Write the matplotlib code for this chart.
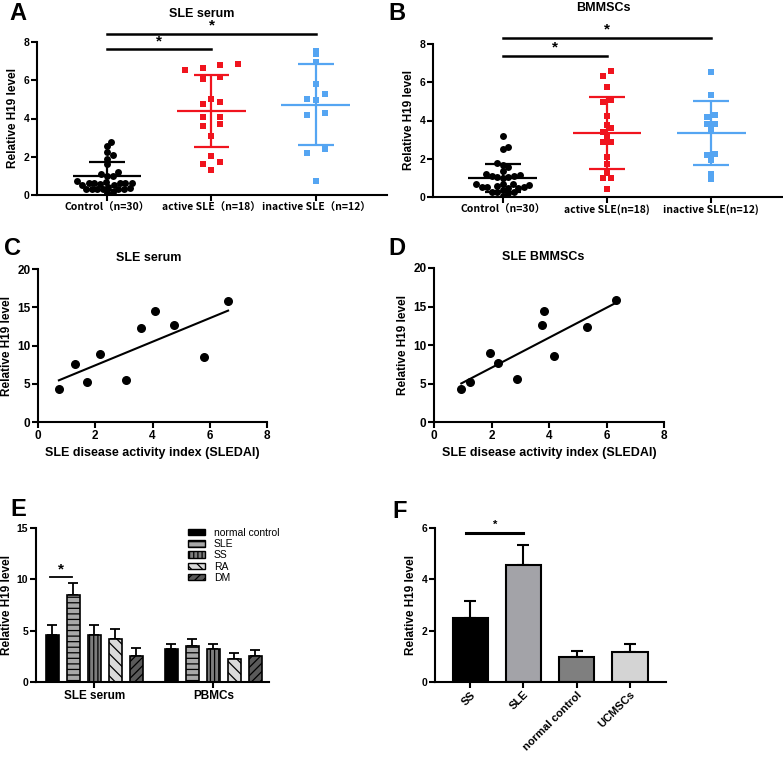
import numpy as np
import matplotlib
matplotlib.use('Agg')
import matplotlib.pyplot as plt
from matplotlib.patches import Patch

plt.rcParams['font.family'] = ['Liberation Sans', 'Noto Sans CJK SC', 'DejaVu Sans']
plt.rcParams['font.weight'] = 'bold'
plt.rcParams['hatch.linewidth'] = 0.9

W, H = 783, 759

# ---------------- data ----------------
# panel A, SLE serum
labels_A = ['Control（n=30）', 'active SLE（n=18）', 'inactive SLE（n=12）']
a_control = [2.77, 2.56, 2.25, 1.90, 2.07, 1.60, 1.18, 1.08, 0.99, 0.99,
             0.75, 0.64, 0.64, 0.68, 0.64, 0.59, 0.63, 0.63, 0.54, 0.54,
             0.33, 0.31, 0.31, 0.31, 0.38, 0.33, 0.17, 0.10, 0.33, 0.42]
a_active = [6.86, 6.81, 6.64, 6.55, 6.15, 6.06, 5.03, 4.74, 4.84, 4.09,
            4.06, 3.62, 3.71, 3.08, 2.02, 1.72, 1.64, 1.31]
a_inactive = [7.51, 7.39, 6.93, 5.82, 5.26, 4.95, 5.03, 4.29, 4.16, 2.42, 2.18, 0.73]
a_mean = [1.01, 4.39, 4.72]
a_sd = [0.73, 1.88, 2.12]

# panel B, BMMSCs
labels_B = ['Control（n=30）', 'active SLE(n=18)', 'inactive SLE(n=12)']
b_control = [3.19, 2.51, 2.61, 1.79, 1.55, 1.66, 1.36, 1.18, 0.99, 1.06,
             1.11, 1.17, 1.11, 1.06, 0.70, 0.66, 0.52, 0.49, 0.52, 0.52,
             0.68, 0.49, 0.61, 0.28, 0.24, 0.24, 0.19, 0.38, 0.05, 0.57]
b_active = [6.57, 6.31, 5.75, 4.95, 5.05, 4.25, 3.76, 3.59, 3.41, 3.21,
            2.86, 2.86, 2.09, 1.71, 1.24, 1.01, 1.01, 0.42]
b_inactive = [6.55, 5.31, 4.27, 4.20, 3.83, 3.83, 3.52, 2.23, 2.18, 1.93, 1.20, 0.96]
b_mean = [0.99, 3.34, 3.34]
b_sd = [0.75, 1.89, 1.68]

# panel C / D, correlation with SLEDAI
c_x = [0.73, 1.30, 1.72, 2.16, 3.08, 3.61, 4.09, 4.74, 5.81, 6.64]
c_y = [4.31, 7.63, 5.23, 8.93, 5.53, 12.33, 14.51, 12.64, 8.54, 15.82]
d_x = [0.95, 1.24, 1.94, 2.23, 2.87, 3.77, 3.84, 4.19, 5.33, 6.32]
d_y = [4.30, 5.22, 8.91, 7.61, 5.52, 12.57, 14.48, 8.52, 12.30, 15.78]

# panel E
e_groups = ['SLE serum', 'PBMCs']
e_series = ['normal control', 'SLE', 'SS', 'RA', 'DM']
e_serum = [4.55, 8.50, 4.55, 4.20, 2.50]
e_serum_err = [1.03, 1.14, 1.03, 0.99, 0.84]
e_pbmc = [3.18, 3.47, 3.18, 2.27, 2.50]
e_pbmc_err = [0.55, 0.72, 0.55, 0.52, 0.58]

# panel F
f_labels = ['SS', 'SLE', 'normal control', 'UCMSCs']
f_vals = [2.49, 4.57, 0.99, 1.18]
f_err = [0.67, 0.77, 0.21, 0.31]

red = '#f0141e'
blue = '#55a5f2'

fig = plt.figure(figsize=(W / 100, H / 100), dpi=100)


def make_axes(left, top, right, bottom, labelsize=7.5):
    ax = fig.add_axes([left / W, 1 - bottom / H, (right - left) / W, (bottom - top) / H])
    ax.spines[['top', 'right']].set_visible(False)
    ax.spines[['left', 'bottom']].set_linewidth(1.5)
    ax.tick_params(width=1.5, length=4, labelsize=labelsize, pad=1.5)
    ax.patch.set_alpha(0)
    return ax


def px_text(x, y, s, size, **kw):
    fig.text(x / W, 1 - y / H, s, fontsize=size, fontweight='bold', **kw)


def bee_x(vals, center, binh, dx):
    # prism-like scatter: points in the same value bin sit side by side
    vals = np.asarray(vals)
    bins = np.floor(vals / binh)
    xs = np.empty(len(vals))
    for b in np.unique(bins):
        idx = np.where(bins == b)[0]
        idx = idx[np.argsort(vals[idx])]
        n = len(idx)
        xs[idx] = center + (np.arange(n) - (n - 1) / 2) * dx
    return xs


def swarm_x(vals, center, ppu_x=104.0, ppu_y=19.1, d=5.6):
    # simple swarm in pixel space, nearest free slot to the centre line
    vals = np.asarray(vals)
    xs = np.empty(len(vals))
    placed = []
    step = d / 4
    for i in np.argsort(vals):
        y = vals[i] * ppu_y
        for k in range(200):
            cands = [0.0] if k == 0 else [k * step, -k * step]
            good = [c for c in cands
                    if all((c - px) ** 2 + (y - py) ** 2 >= d ** 2 for px, py in placed)]
            if good:
                off = good[0]
                break
        placed.append((off, y))
        xs[i] = center + off / ppu_x
    return xs


def dot_panel(ax, groups, labels, means, sds, sq_bin, sq_dx):
    cols = ['black', red, blue]
    for i, vals in enumerate(groups):
        if i == 0:
            xs = swarm_x(vals, i)
            ax.scatter(xs, vals, s=25, color=cols[i], marker='o', lw=0, zorder=2)
        else:
            xs = bee_x(vals, i, sq_bin, sq_dx)
            ax.scatter(xs, vals, s=24, color=cols[i], marker='s', lw=0, zorder=2)
    for i in range(3):
        m, s = means[i], sds[i]
        ax.hlines(m, i - 0.33, i + 0.33, color=cols[i], lw=1.6, zorder=3)
        ax.hlines([m - s, m + s], i - 0.17, i + 0.17, color=cols[i], lw=1.6, zorder=3)
        ax.vlines(i, m - s, m + s, color=cols[i], lw=1.6, zorder=3)
    ax.set_ylim(0, 8)
    ax.set_yticks([0, 2, 4, 6, 8])
    ax.set_xlim(-0.67, 2.68)
    ax.set_ylabel('Relative H19 level', fontsize=8.5, fontweight='bold', labelpad=3)
    ax.set_xticks(range(3), labels, fontsize=7.5,
                  fontfamily=['Liberation Sans Narrow', 'Noto Sans CJK SC', 'DejaVu Sans'])


def sig(ax, x0, x1, y, ys, size=11, lw=1.8):
    ax.plot([x0, x1], [y, y], color='black', lw=lw, clip_on=False)
    ax.text((x0 + x1) / 2, ys, '*', ha='center', va='center', fontsize=size,
            fontweight='bold', clip_on=False)


# ---------------- A ----------------
axA = make_axes(37, 42, 387, 195)
dot_panel(axA, [a_control, a_active, a_inactive], labels_A, a_mean, a_sd, 0.5, 0.17)
sig(axA, 0, 2, 8.42, 8.85)
sig(axA, 0, 1, 7.63, 8.05)
px_text(202, 14, 'SLE serum', 9, ha='center', va='center')
px_text(9, 2, 'A', 17, ha='left', va='top')

# ---------------- B ----------------
axB = make_axes(433, 44, 782, 197)
dot_panel(axB, [b_control, b_active, b_inactive], labels_B, b_mean, b_sd, 0.3, 0.075)
sig(axB, 0, 2, 8.32, 8.75)
sig(axB, 0, 1, 7.38, 7.8)
px_text(603, 8, 'BMMSCs', 9, ha='center', va='center')
px_text(388, 2, 'B', 17, ha='left', va='top')


# ---------------- C / D ----------------
def corr_panel(ax, xs, ys, title, tx, ty):
    ax.scatter(xs, ys, s=30, color='black', zorder=3)
    k, b = np.polyfit(xs, ys, 1)
    xx = np.array([min(xs), max(xs)])
    ax.plot(xx, k * xx + b, color='black', lw=1.5)
    ax.set_xlim(0, 8)
    ax.set_ylim(0, 20)
    ax.set_xticks([0, 2, 4, 6, 8])
    ax.set_yticks([0, 5, 10, 15, 20])
    ax.set_xlabel('SLE disease activity index (SLEDAI)', fontsize=9, fontweight='bold', labelpad=4)
    ax.set_ylabel('Relative H19 level', fontsize=8.5, fontweight='bold', labelpad=3)
    px_text(tx, ty, title, 9, ha='center', va='center')


axC = make_axes(38, 269, 267, 422, labelsize=8.5)
corr_panel(axC, c_x, c_y, 'SLE serum', 149, 258)
px_text(4, 237, 'C', 17, ha='left', va='top')

axD = make_axes(434, 268, 664, 422, labelsize=8.5)
corr_panel(axD, d_x, d_y, 'SLE BMMSCs', 543, 257)
px_text(388, 237, 'D', 17, ha='left', va='top')

# ---------------- E ----------------
axE = make_axes(36, 528, 269, 682)
e_colors = ['black', '#a8a8a8', '#7d7d7d', '#dadada', '#5a5a5a']
e_hatch = [None, '---', '||||', '\\\\\\', '////']
gap = 5.68
for i in range(5):
    xs = [i, i + gap]
    ax_vals = [e_serum[i], e_pbmc[i]]
    ax_err = [e_serum_err[i], e_pbmc_err[i]]
    axE.errorbar(xs, ax_vals, yerr=[[0, 0], ax_err], fmt='none', ecolor='black',
                 elinewidth=1.3, capsize=3.5, capthick=1.3, zorder=1)
    axE.bar(xs, ax_vals, width=0.63, color=e_colors[i], edgecolor='black',
            hatch=e_hatch[i], lw=1.2, zorder=2)
axE.set_ylim(0, 15)
axE.set_yticks([0, 5, 10, 15])
axE.set_xlim(-0.78, 10.33)
axE.set_xticks([2, 2 + gap], e_groups, fontsize=8.5)
axE.set_ylabel('Relative H19 level', fontsize=8.5, fontweight='bold', labelpad=3)
sig(axE, -0.1, 0.95, 10.2, 10.95, size=11, lw=1.3)
handles = [Patch(facecolor=e_colors[i], edgecolor='black', hatch=e_hatch[i], lw=1)
           for i in range(5)]
axE.legend(handles, e_series, loc='upper left', bbox_to_anchor=(0.63, 1.035), frameon=False,
           prop={'size': 7.5, 'weight': 'normal'}, handlelength=1.6, handleheight=0.55,
           labelspacing=0.12, handletextpad=0.9, borderpad=0)
px_text(10, 498, 'E', 17, ha='left', va='top')

# ---------------- F ----------------
axF = make_axes(435, 528, 666, 682)
f_colors = ['black', '#a3a3a8', '#7f7f7f', '#d4d4d4']
fx = np.arange(len(f_vals))
axF.errorbar(fx, f_vals, yerr=[np.zeros(len(f_err)), f_err], fmt='none', ecolor='black',
             elinewidth=1.5, capsize=4, capthick=1.5, zorder=1)
axF.bar(fx, f_vals, width=0.66, color=f_colors, edgecolor='black', lw=1.5, zorder=2)
axF.set_ylim(0, 6)
axF.set_yticks([0, 2, 4, 6])
axF.set_xlim(-0.66, 3.675)
axF.set_xticks(fx, f_labels, fontsize=8, rotation=45, ha='right', rotation_mode='anchor')
axF.set_ylabel('Relative H19 level', fontsize=8.5, fontweight='bold', labelpad=3)
sig(axF, -0.07, 1.0, 5.82, 6.12, size=8, lw=2.2)
px_text(392, 500, 'F', 17, ha='left', va='top')

fig.savefig('out.png', dpi=100)
